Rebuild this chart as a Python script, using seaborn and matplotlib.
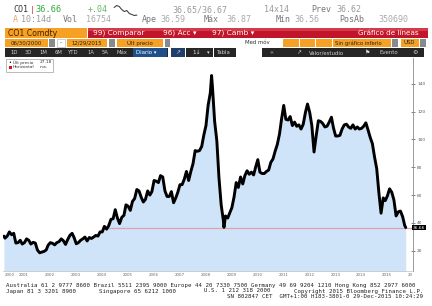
import matplotlib
matplotlib.use("Agg")
import matplotlib.pyplot as plt
import seaborn as sns
import numpy as np
import pandas as pd
import matplotlib.dates as mdates
from matplotlib.patches import Rectangle
from matplotlib.transforms import blended_transform_factory, offset_copy

# ---------------- data ----------------
monthly_start = "2000-07-01"
monthly_end = "2015-12-01"
monthly_price = [
    # 2000 Jul-Dec
    29.0, 30.5, 33.5, 31.5, 32.5, 25.5,
    # 2001
    25.8, 27.5, 24.8, 25.8, 28.5, 27.5, 24.8, 26.0, 25.5, 20.5, 18.5, 19.0,
    # 2002
    19.5, 20.5, 24.0, 25.8, 25.3, 24.2, 25.8, 26.5, 28.5, 27.2, 24.5, 28.0,
    # 2003
    31.0, 32.5, 29.5, 25.0, 25.8, 27.5, 28.5, 29.8, 27.0, 29.5, 28.8, 29.8,
    # 2004
    31.0, 30.5, 33.5, 33.5, 37.5, 35.5, 38.0, 42.5, 43.0, 49.5, 43.5, 39.5,
    # 2005
    44.0, 45.5, 53.0, 52.0, 49.0, 55.5, 57.5, 64.0, 63.0, 58.5, 55.0, 57.0,
    # 2006
    63.0, 60.0, 62.5, 70.5, 70.0, 69.0, 74.0, 73.0, 63.0, 59.0, 59.0, 62.5,
    # 2007
    54.5, 58.0, 62.0, 67.5, 67.5, 71.5, 77.0, 70.5, 77.0, 82.5, 92.0, 91.5,
    # 2008
    92.0, 95.0, 103.0, 110.0, 124.5, 133.5, 138.0, 113.0, 99.0, 72.5, 53.0, 42.0,
    # 2009
    45.0, 43.5, 47.0, 51.0, 58.5, 69.0, 65.5, 73.0, 68.0, 74.0, 77.5, 75.0,
    # 2010
    76.5, 74.5, 80.0, 85.5, 76.5, 75.5, 75.5, 77.0, 78.0, 83.5, 86.0, 91.5,
    # 2011
    96.5, 104.0, 114.5, 124.5, 114.5, 114.0, 116.5, 110.0, 112.5, 109.5, 110.5, 107.5,
    # 2012
    111.0, 119.5, 125.5, 119.5, 110.0, 91.0, 102.5, 113.5, 113.0, 111.5, 109.0, 109.5,
    # 2013
    112.5, 116.0, 108.5, 102.5, 102.5, 103.0, 107.5, 110.5, 111.0, 109.0, 108.0, 110.5,
    # 2014
    107.5, 109.0, 107.5, 108.0, 109.5, 112.0, 107.0, 101.5, 97.0, 87.5, 79.0, 62.0,
    # 2015
    47.0, 58.0, 56.0, 59.5, 64.5, 62.0, 56.5, 45.0, 48.0, 48.5, 44.5, 38.0,
]
extra_dates = ["2000-06-30", "2008-07-03", "2008-12-24", "2015-12-29"]
extra_price = [30.5, 146.0, 36.8, 36.66]

last_price = 36.66
hline_level = 36.66
hline_start = "2004-07-01"
ytick_vals = [20, 40, 60, 80, 100, 120, 140]
year_ticks = list(range(2001, 2017))
year_labels = ["2000"] + [str(y) for y in range(2001, 2016)] + ["20"]
spark_vals = [5, 6, 5.5, 4, 3, 3.5, 2, 1.5, 1, 1.2]

# ---------------- build series ----------------
mdates_idx = pd.date_range(monthly_start, monthly_end, freq="MS") + pd.Timedelta(days=14)
df = pd.DataFrame({"date": list(mdates_idx) + list(pd.to_datetime(extra_dates)),
                   "price": monthly_price + extra_price}).sort_values("date")

sns.set_theme(style="white")
plt.rcParams['font.family'] = ['DejaVu Sans']

W, H = 432, 306
fig = plt.figure(figsize=(W / 100, H / 100), dpi=100)
fig.patch.set_facecolor("white")

YMIN, YMAX = 5.4, 158.6
XMIN, XMAX = pd.Timestamp("2000-06-17"), pd.Timestamp("2016-04-09")

ax = fig.add_axes([3 / W, 1 - 271 / H, 410 / W, 213 / H])
ax.set_facecolor("white")
ax.fill_between(df["date"], df["price"], YMIN, color="#cfe4f8", lw=0, zorder=0)
ax.hlines(hline_level, pd.Timestamp(hline_start), XMAX, color="#dba2b6", lw=0.9, zorder=1)
sns.lineplot(data=df, x="date", y="price", ax=ax, color="black", lw=2.1, zorder=3)
ax.set_xlim(XMIN, XMAX)
ax.set_ylim(YMIN, YMAX)
ax.set_xlabel("")
ax.set_ylabel("")

for s in ["top", "left"]:
    ax.spines[s].set_visible(False)
ax.spines["right"].set_color("#8a8a8a")
ax.spines["right"].set_linewidth(0.6)
ax.spines["bottom"].set_color("#c0c0c0")
ax.spines["bottom"].set_linewidth(0.5)

ax.yaxis.tick_right()
ax.set_yticks(ytick_vals)
ax.set_yticklabels([str(v) for v in ytick_vals])
ax.tick_params(axis="y", direction="inout", length=3, width=0.5, color="#555555",
               labelsize=3.1, labelcolor="#555555", pad=1.5)

ax.set_xticks([pd.Timestamp(f"{y}-01-01") for y in year_ticks])
ax.set_xticklabels([])
ax.tick_params(axis="x", direction="out", length=6, width=0.5, color="#c8c8c8")

trans_lab = offset_copy(blended_transform_factory(ax.transData, ax.transAxes), fig=fig, x=2, y=-4, units="dots")
label_pos = [XMIN] + [pd.Timestamp(f"{y}-01-01") for y in year_ticks]
for d, lab in zip(label_pos, year_labels):
    ax.text(d, 0, lab, transform=trans_lab, ha="left", va="center",
            fontsize=2.9, color="#666666", clip_on=False)

ax.text(1.0, last_price, f"{last_price:.2f}",
        transform=blended_transform_factory(ax.transAxes, ax.transData),
        ha="left", va="center", color="white", fontsize=3.2, zorder=5,
        bbox=dict(boxstyle="square,pad=0.2", fc="black", ec="none"))

# ---------------- helpers for terminal chrome ----------------
def R(x, y, w, h, color, ec="none", lw=0, z=1):
    fig.patches.append(Rectangle((x / W, 1 - (y + h) / H), w / W, h / H,
                                 transform=fig.transFigure, facecolor=color,
                                 edgecolor=ec, linewidth=lw, zorder=z))

def T(x, y, s, size, color, ha="left", mono=False, weight="normal"):
    fam = ["DejaVu Sans Mono"] if mono else ["DejaVu Sans"]
    fig.text(x / W, 1 - y / H, s, fontsize=size, color=color, ha=ha, va="center",
             family=fam, weight=weight, zorder=5)

# row 1
T(13, 10, "CO1", 6, "#333333", mono=True)
R(31.5, 6, 1, 8, "#e07070")
T(35, 10, "36.66", 6.2, "#2faa3c", mono=True)
T(88, 10, "+.04", 6, "#66b866", mono=True)
T(172, 10, "36.65/36.67", 6, "#9a9a9a", mono=True)
T(264, 10, "14x14", 6, "#9a9a9a", mono=True)
T(311, 10, "Prev", 6, "#777777", mono=True)
T(336, 10, "36.62", 6, "#9a9a9a", mono=True)
sp = fig.add_axes([113 / W, 1 - 16 / H, 25 / W, 11 / H])
sp.plot(range(len(spark_vals)), spark_vals, color="#444444", lw=0.8)
sp.axis("off")

# row 2
T(13, 20, "A", 6, "#f0a080", mono=True)
T(21, 20, "10:14d", 6, "#9a9a9a", mono=True)
T(63, 20, "Vol", 6, "#777777", mono=True)
T(86, 20, "16754", 6, "#aaaaaa", mono=True)
T(142, 20, "Ape", 6, "#777777", mono=True)
T(160, 20, "36.59", 6, "#aaaaaa", mono=True)
T(204, 20, "Máx", 6, "#777777", mono=True)
T(226, 20, "36.87", 6, "#aaaaaa", mono=True)
T(276, 20, "Mín", 6, "#777777", mono=True)
T(294, 20, "36.56", 6, "#aaaaaa", mono=True)
T(339, 20, "PosAb", 6, "#777777", mono=True)
T(378, 20, "350690", 6, "#aaaaaa", mono=True)

# row 3
R(5, 28, 82, 9.5, "#f6a124")
T(8, 33, "CO1 Comdty", 5.6, "#3a2000")
R(88, 28, 340, 9.5, "#c0152a")
R(88, 28, 340, 3, "#d43a4a")
T(93, 33, "99) Comparar", 5.3, "white")
T(163, 33, "96) Acc ▾", 5.3, "white")
T(212, 33, "97) Camb ▾", 5.3, "white")
T(419, 33, "Gráfico de líneas", 5.2, "white", ha="right")

# row 4
R(5, 39, 43, 7.5, "#f6a124"); T(26.5, 42.8, "06/30/2000", 3.9, "#222222", ha="center")
R(49, 39, 6, 7.5, "#8a8a8a")
R(57, 39, 8, 7.5, "white", ec="#aaaaaa", lw=0.4); T(61, 42.8, "-", 4, "#222222", ha="center")
R(67, 39, 40, 7.5, "#f6a124"); T(87, 42.8, "12/29/2015", 3.9, "#222222", ha="center")
R(109, 39, 6, 7.5, "#8a8a8a")
R(117, 39, 46, 7.5, "#f6a124"); T(127, 42.8, "Últ precio", 3.9, "#222222")
R(165, 39, 5, 7.5, "#8a8a8a")
T(270, 42.8, "Med móv", 3.9, "#333333", ha="right")
R(283, 39, 15.5, 7.5, "#f6a124")
R(299.5, 39, 15.5, 7.5, "#f6a124")
R(316, 39, 15.5, 7.5, "#f6a124")
R(333, 39, 58, 7.5, "#f6a124"); T(335, 42.8, "Sin gráfico inferio", 3.8, "#222222")
R(392, 39, 6, 7.5, "#8a8a8a")
R(401, 39, 18, 7.5, "#f6a124"); T(404, 42.8, "USD", 3.9, "#222222")
R(420, 39, 6, 7.5, "#8a8a8a")

# row 5
R(5, 48, 163, 9, "#262626")
for xx, s in [(10, "1D"), (25, "3D"), (39, "1M"), (55, "6M"), (68, "YTD"),
              (87, "1A"), (102, "5A"), (117, "Máx")]:
    T(xx, 52.7, s, 3.8, "#cfcfcf")
R(133, 48.5, 34, 8, "#1f4f8a"); T(136, 52.7, "Diario ▾", 3.9, "white")
R(171, 48, 14, 9, "#1f3f6a"); T(178, 52.7, "↗", 4.2, "#cfcfcf", ha="center")
R(186, 48, 27, 9, "#262626"); T(192, 52.7, "1↓", 4.2, "#e0e0e0"); T(207, 52.7, "▾", 3.8, "#e0e0e0")
R(214, 48, 22, 9, "#262626"); T(217, 52.7, "Tabla", 3.8, "#cfcfcf")
R(262, 48, 162, 9, "#262626")
T(269, 52.7, "«", 4.5, "#cfcfcf")
T(299, 52.7, "↗", 4.2, "#cfcfcf", ha="center")
T(309, 52.7, "Valor/estudio", 3.9, "#cfcfcf")
T(368, 52.7, "⚑", 4.2, "#e0e0e0", ha="center")
T(379, 52.7, "Evento", 3.9, "#cfcfcf")
T(415, 52.7, "⚙", 4.4, "#cfcfcf", ha="center")

# legend box
R(6, 58.5, 47, 13.5, "white", ec="#a0a0a0", lw=0.5, z=6)
fig.text(10 / W, 1 - 62.3 / H, "•", fontsize=3.5, color="black", ha="center", va="center", zorder=7)
fig.text(13 / W, 1 - 62.3 / H, "Últ precio", fontsize=3.1, color="#333333", va="center", zorder=7)
fig.text(40 / W, 1 - 62.3 / H, "27.18", fontsize=3.1, color="#333333", va="center", zorder=7)
R(8.5, 65.5, 3.2, 3.2, "#e0101e", z=7)
fig.text(13 / W, 1 - 67.2 / H, "Horizontal", fontsize=3.1, color="#333333", va="center", zorder=7)
fig.text(40 / W, 1 - 67.2 / H, "n.a.", fontsize=3.1, color="#333333", va="center", zorder=7)

# footer
fs = 4.15
T(6, 285, "Australia 61 2 9777 8600 Brazil 5511 2395 9000 Europe 44 20 7330 7500 Germany 49 69 9204 1210 Hong Kong 852 2977 6000",
  fs, "#222222", mono=True)
T(6, 291, "Japan 81 3 3201 8900", fs, "#222222", mono=True)
T(99, 291, "Singapore 65 6212 1000", fs, "#222222", mono=True)
T(204, 291, "U.S. 1 212 318 2000", fs, "#222222", mono=True)
T(423, 291, "Copyright 2015 Bloomberg Finance L.P.", fs, "#222222", ha="right", mono=True)
T(423, 297, "SN 802847 CET  GMT+1:00 H183-3801-0 29-Dec-2015 10:24:29", fs, "#222222", ha="right", mono=True)

fig.savefig("out.png", dpi=100)
